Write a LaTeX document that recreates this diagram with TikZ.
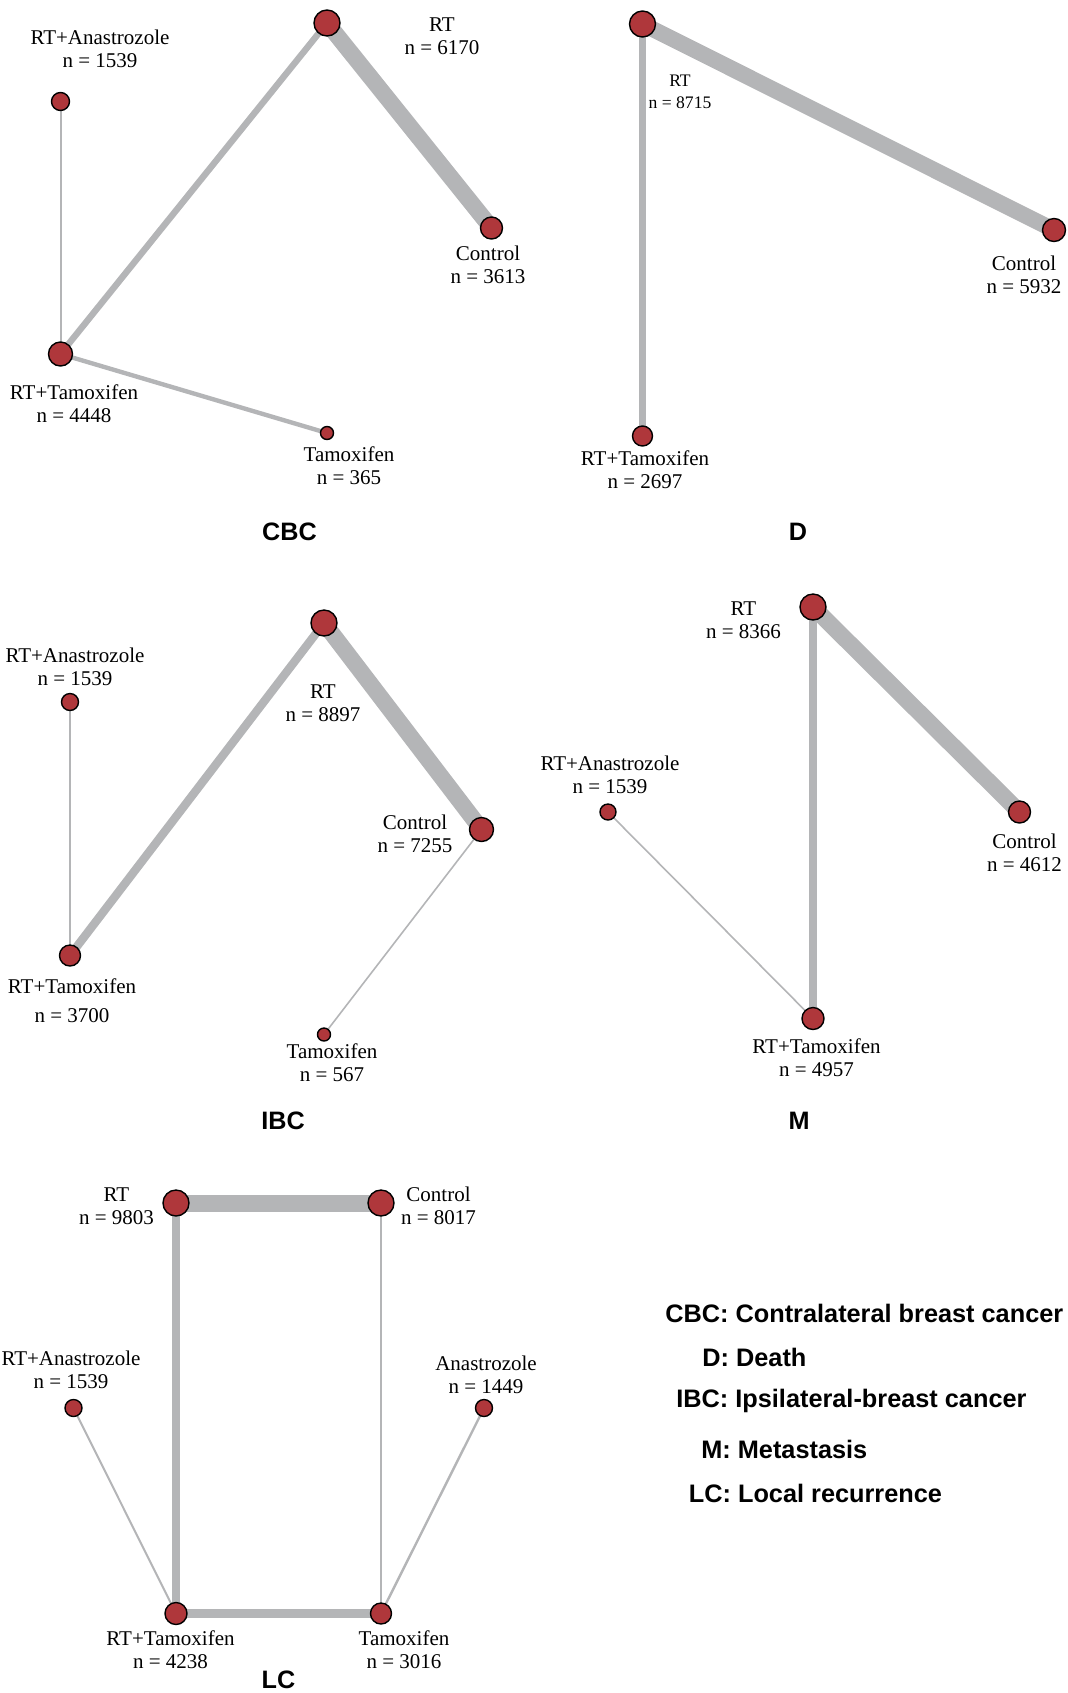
\documentclass[tikz,border=0pt]{standalone}
\usepackage{fontspec}
\setmainfont{Liberation Serif}
\newfontfamily\lsans{Liberation Sans}
\usetikzlibrary{backgrounds}
\definecolor{nodered}{HTML}{AF373B}
\definecolor{edgegray}{HTML}{B4B5B7}
\tikzset{
  trt/.style={circle,fill=nodered,draw=black,line width=0.7pt,inner sep=0pt,minimum size=#1},
  lab/.style={align=center,inner sep=0pt,font=\fontsize{10.5}{11.4}\selectfont},
  slab/.style={align=center,inner sep=0pt,font=\fontsize{8.8}{10.8}\selectfont},
  ttl/.style={inner sep=0pt,font=\lsans\bfseries\fontsize{12.6}{14}\selectfont},
  leg/.style={anchor=west,inner sep=0pt,font=\lsans\bfseries\fontsize{12.65}{14}\selectfont},
  edge/.style={draw=edgegray,line width=#1}
}
\begin{document}
\begin{tikzpicture}[x=0.5pt,y=-0.5pt]
\useasboundingbox (0,0) rectangle (1068,1693);
% ---------------- CBC ----------------
\node[trt=13pt] (c1) at (327,23) {};
\node[trt=9pt] (c2) at (60.5,101.5) {};
\node[trt=11pt] (c3) at (491.5,228) {};
\node[trt=12pt] (c4) at (60.5,354) {};
\node[trt=6.5pt] (c5) at (327,433) {};
\node[lab] (lc1) at (442,36) {RT\\n = 6170};
\node[lab] (lc2) at (100,49) {RT+Anastrozole\\n = 1539};
\node[lab] (lc3) at (488,265) {Control\\n = 3613};
\node[lab] (lc4) at (74,404) {RT+Tamoxifen\\n = 4448};
\node[lab] (lc5) at (349,465.5) {Tamoxifen\\n = 365};
\node[ttl] (tc) at (289.5,531.5) {CBC};
\begin{scope}[on background layer]
\draw[edge=8.3pt] (c1.center) -- (c3.center);
\draw[edge=3.2pt] (c1.center) -- (c4.center);
\draw[edge=2.2pt] (c4.center) -- (c5.center);
\draw[edge=1pt] (c2.center) -- (c4.center);
\end{scope}
% ---------------- D ----------------
\node[trt=13pt] (d1) at (642.5,24) {};
\node[trt=11.5pt] (d2) at (1054,230) {};
\node[trt=10pt] (d3) at (642.5,436) {};
\node[slab] (ld1) at (680,92) {RT\\n = 8715};
\node[lab] (ld2) at (1024,275) {Control\\n = 5932};
\node[lab] (ld3) at (645,470) {RT+Tamoxifen\\n = 2697};
\node[ttl] (td) at (798,531.5) {D};
\begin{scope}[on background layer]
\draw[edge=8pt] (d1.center) -- (d2.center);
\draw[edge=3.2pt] (d1.center) -- (d3.center);
\end{scope}
% ---------------- IBC ----------------
\node[trt=13pt] (i1) at (324,623) {};
\node[trt=8.5pt] (i2) at (70,702) {};
\node[trt=12pt] (i3) at (481.5,829.5) {};
\node[trt=10.5pt] (i4) at (70,955.5) {};
\node[trt=6.5pt] (i5) at (324,1034.5) {};
\node[lab] (li1) at (323,703) {RT\\n = 8897};
\node[lab] (li2) at (75,667) {RT+Anastrozole\\n = 1539};
\node[lab] (li3) at (415,834) {Control\\n = 7255};
\node[lab] (li4) at (72,1000.5) {RT+Tamoxifen\\[3pt]n = 3700};
\node[lab] (li5) at (332,1063) {Tamoxifen\\n = 567};
\node[ttl] (ti) at (283,1121) {IBC};
\begin{scope}[on background layer]
\draw[edge=8.3pt] (i1.center) -- (i3.center);
\draw[edge=4.2pt] (i1.center) -- (i4.center);
\draw[edge=0.8pt] (i2.center) -- (i4.center);
\draw[edge=0.8pt] (i3.center) -- (i5.center);
\end{scope}
% ---------------- M ----------------
\node[trt=13pt] (m1) at (813,607) {};
\node[trt=8pt] (m2) at (608,812) {};
\node[trt=11pt] (m3) at (1019.5,812) {};
\node[trt=11pt] (m4) at (813,1018.5) {};
\node[lab] (lm1) at (743.5,620) {RT\\n = 8366};
\node[lab] (lm2) at (610,775) {RT+Anastrozole\\n = 1539};
\node[lab] (lm3) at (1024.5,853) {Control\\n = 4612};
\node[lab] (lm4) at (816.5,1058) {RT+Tamoxifen\\n = 4957};
\node[ttl] (tm) at (799,1121) {M};
\begin{scope}[on background layer]
\draw[edge=8.3pt] (m1.center) -- (m3.center);
\draw[edge=4.2pt] (m1.center) -- (m4.center);
\draw[edge=0.8pt] (m2.center) -- (m4.center);
\end{scope}
% ---------------- LC ----------------
\node[trt=13pt] (l1) at (176,1203) {};
\node[trt=13pt] (l2) at (381,1203) {};
\node[trt=8.5pt] (l3) at (73.5,1408) {};
\node[trt=8.5pt] (l4) at (484,1408) {};
\node[trt=11pt] (l5) at (176,1613.5) {};
\node[trt=10.5pt] (l6) at (381,1613.5) {};
\node[lab] (ll1) at (116.5,1206) {RT\\n = 9803};
\node[lab] (ll2) at (438.5,1206) {Control\\n = 8017};
\node[lab] (ll3) at (71,1370) {RT+Anastrozole\\n = 1539};
\node[lab] (ll4) at (486,1375) {Anastrozole\\n = 1449};
\node[lab] (ll5) at (170.5,1650) {RT+Tamoxifen\\n = 4238};
\node[lab] (ll6) at (404,1650) {Tamoxifen\\n = 3016};
\node[ttl] (tl) at (278.5,1679.5) {LC};
\begin{scope}[on background layer]
\draw[edge=8.5pt] (l1.center) -- (l2.center);
\draw[edge=4.3pt] (l1.center) -- (l5.center);
\draw[edge=4.3pt] (l5.center) -- (l6.center);
\draw[edge=1pt] (l2.center) -- (l6.center);
\draw[edge=1pt] (l3.center) -- (l5.center);
\draw[edge=1.2pt] (l4.center) -- (l6.center);
\end{scope}
% ---------------- Legend ----------------
\node[leg] (g1) at (665,1313) {CBC: Contralateral breast cancer};
\node[leg] (g2) at (702,1357) {D: Death};
\node[leg] (g3) at (676,1400.5) {IBC: Ipsilateral-breast cancer};
\node[leg] (g4) at (701,1449.5) {M: Metastasis};
\node[leg] (g5) at (688.5,1493.5) {LC: Local recurrence};
\end{tikzpicture}
\end{document}
